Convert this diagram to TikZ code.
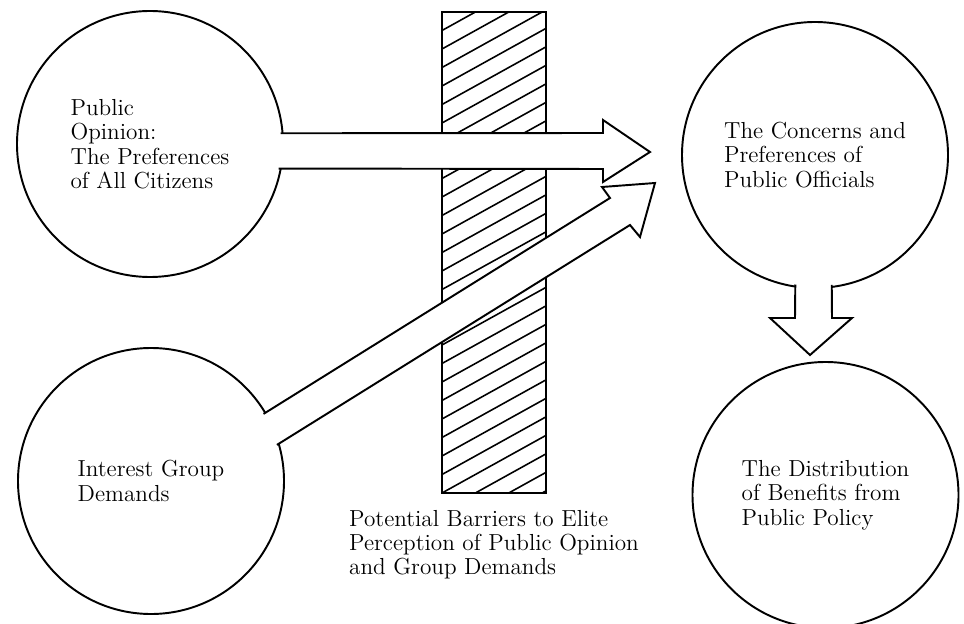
\documentclass[tikz,border=0pt]{standalone}
\usetikzlibrary{positioning, calc}

\begin{document}
\begin{tikzpicture}[
    every node/.style={font=\fontsize{13.2}{13.9}\selectfont},
    sphere/.style={circle, draw, line width=1.1pt, minimum size=5.32cm, align=left, inner sep=0pt},
    barrier/.style={rectangle, draw, line width=1.1pt, minimum width=2.08cm, minimum height=9.62cm, inner sep=0pt,
        path picture={\foreach \k in {-4,...,27}
            \draw[hatch] ([yshift=\k*0.37cm]path picture bounding box.south west) -- ++(29:2.5);}},
    hatch/.style={line width=0.9pt},
    flow/.style={draw, fill=white, line width=1.1pt, line join=miter},
    caption/.style={align=left, inner sep=0pt, outer sep=0pt}]

  \useasboundingbox (0,0) rectangle (19.28,12.46);

  \node[barrier] (bar) at (9.88, 7.41) {};
  \node[caption, below=0.32cm of bar] (barlbl) {Potential Barriers to Elite\\Perception of Public Opinion\\and Group Demands};

  \node[sphere] (pub) at ( 3.00, 9.58) {Public\\Opinion:\\The Preferences\\of All Citizens};
  \node[sphere] (grp) at ( 3.02, 2.84) {Interest Group\\Demands};
  \node[sphere] (off) at (16.30, 9.36) {The Concerns and\\Preferences of\\Public Officials};
  \node[sphere] (ben) at (16.51, 2.56) {The Distribution\\of Benefits from\\Public Policy};

  % block arrows, open into the circle they leave
  \def\rin{2.62}
  \path[flow] ($(pub.center)+(4.7:\rin)$) -- (12.06, 9.80) -- (12.06, 10.06) -- (13.00, 9.42)
              -- (12.06, 8.82) -- (12.06, 9.08) -- ($(pub.center)+(-10.8:\rin)$);
  \path[flow] ($(grp.center)+(30.8:\rin)$) -- (12.20, 8.50) -- (12.04, 8.72) -- (13.10, 8.80)
              -- (12.80, 7.72) -- (12.60, 7.96) -- ($(grp.center)+(16:\rin)$);
  \path[flow] ($(off.center)+(261.35:\rin)$) -- (15.90, 6.10) -- (15.40, 6.10) -- (16.20, 5.36)
              -- (17.04, 6.10) -- (16.64, 6.10) -- ($(off.center)+(277.34:\rin)$);
\end{tikzpicture}
\end{document}
